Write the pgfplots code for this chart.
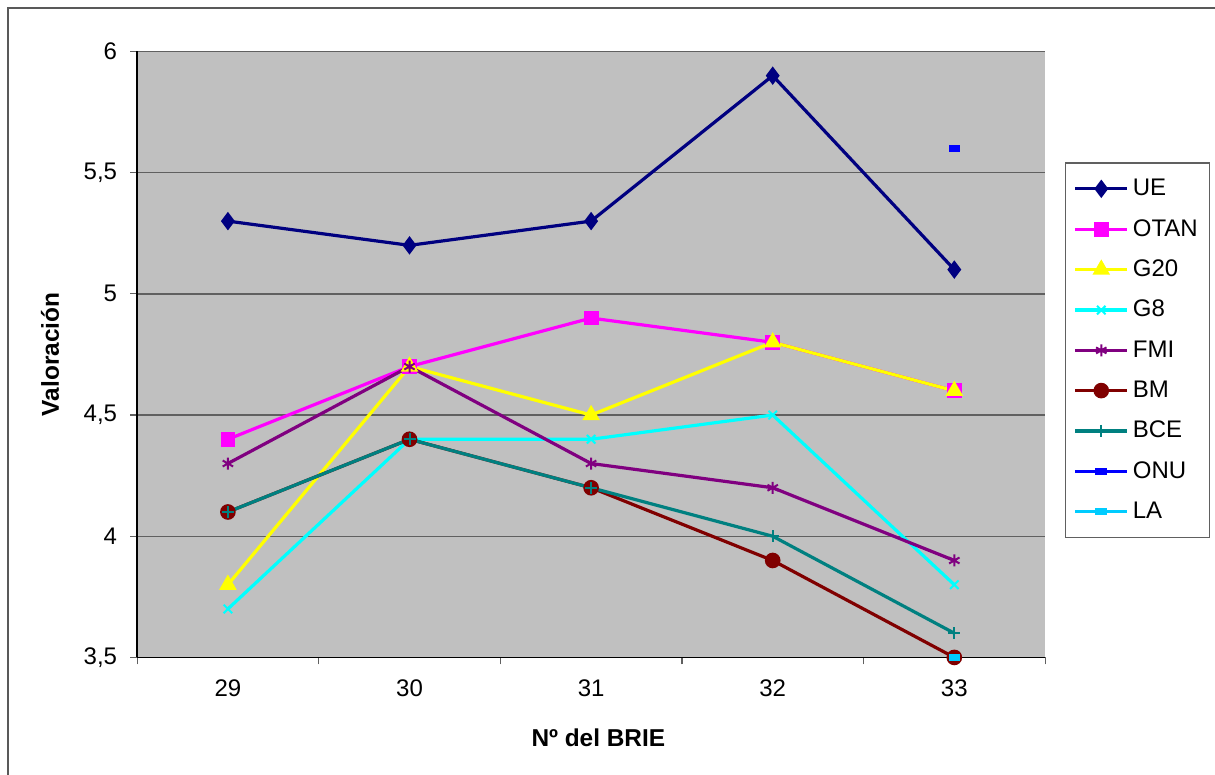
\documentclass[border=0pt]{standalone}
\usepackage{pgfplots}
\pgfplotsset{compat=1.18}
\usepackage{fontspec}
\setmainfont{Liberation Sans}
\definecolor{bgG}{RGB}{192,192,192}
\definecolor{cUE}{RGB}{0,0,128}
\definecolor{cOTAN}{RGB}{255,0,255}
\definecolor{cG20}{RGB}{255,255,0}
\definecolor{cG8}{RGB}{0,255,255}
\definecolor{cFMI}{RGB}{128,0,128}
\definecolor{cBM}{RGB}{128,0,0}
\definecolor{cBCE}{RGB}{0,128,128}
\definecolor{cONU}{RGB}{0,0,255}
\definecolor{cLA}{RGB}{0,204,255}
\definecolor{gridG}{RGB}{96,96,96}
\begin{document}
\begin{tikzpicture}[x=1pt,y=1pt]
\path[use as bounding box] (0,0) rectangle (607.5,387.5);
\draw[gray!70!black,line width=0.6pt] (4,0) -- (4,383.5) -- (607.5,383.5);
\begin{axis}[
  at={(75.5,48.5)}, anchor=south west,
  scale only axis, width=454pt, height=303pt,
  xmin=28.5, xmax=33.5, ymin=3.5, ymax=6,
  xtick={29,30,31,32,33},
  minor xtick={28.5,29.5,30.5,31.5,32.5,33.5},
  ytick={3.5,4,4.5,5,5.5,6},
  major x tick style={draw=none},
  tick align=outside,
  major tick length=3.5pt, minor tick length=3.5pt,
  tick style={gridG, line width=0.6pt},
  axis lines*=left,
  axis line style={black, line width=0.9pt, -},
  ymajorgrids, grid style={gridG, line width=0.7pt},
  axis background/.style={fill=bgG},
  /pgf/number format/assume math mode=true,
  /pgf/number format/use comma,
  tick label style={font=\fontsize{12}{14}\selectfont},
  xticklabel style={yshift=-4pt},
  yticklabel style={xshift=-3pt},
  xlabel={\bfseries Nº del BRIE},
  ylabel={\bfseries Valoración},
  label style={font=\fontsize{12.2}{14}\selectfont\bfseries},
  xlabel style={at={(axis description cs:0.508,0)}, anchor=center, yshift=-40pt},
  ylabel style={at={(axis description cs:-0.096,0.5)}, anchor=center},
  legend style={at={(axis description cs:1.022,0.8168)}, anchor=north west,
    draw=gridG, line width=0.6pt, fill=white,
    font=\fontsize{12}{14}\selectfont, row sep=6.35pt,
    inner xsep=4pt, inner ysep=6pt},
  legend cell align=left,
  legend image code/.code={
    \draw[#1, mark repeat=2, mark phase=2] plot coordinates {(0pt,0pt) (13pt,0pt) (26pt,0pt)};},
  every axis plot/.append style={line width=1.6pt},
  clip=false,
]
\addplot[cUE, mark=diamond*, mark size=3.3pt, mark options={solid}] coordinates {(29,5.3) (30,5.2) (31,5.3) (32,5.9) (33,5.1)};
\addlegendentry{UE}
\addplot[cOTAN, mark=square*, mark size=2.9pt] coordinates {(29,4.4) (30,4.7) (31,4.9) (32,4.8) (33,4.6)};
\addlegendentry{OTAN}
\addplot[cG20, mark=triangle*, mark size=3.5pt] coordinates {(29,3.8) (30,4.7) (31,4.5) (32,4.8) (33,4.6)};
\addlegendentry{G20}
\addplot[cG8, mark=x, mark size=3pt, mark options={line width=1pt}] coordinates {(29,3.7) (30,4.4) (31,4.4) (32,4.5) (33,3.8)};
\addlegendentry{G8}
\addplot[cFMI, mark=asterisk, mark size=3pt, mark options={line width=1pt}] coordinates {(29,4.3) (30,4.7) (31,4.3) (32,4.2) (33,3.9)};
\addlegendentry{FMI}
\addplot[cBM, mark=*, mark size=3.1pt] coordinates {(29,4.1) (30,4.4) (31,4.2) (32,3.9) (33,3.5)};
\addlegendentry{BM}
\addplot[cBCE, mark=+, mark size=3pt, mark options={line width=1pt}] coordinates {(29,4.1) (30,4.4) (31,4.2) (32,4.0) (33,3.6)};
\addlegendentry{BCE}
\addplot[cONU, mark=square*, mark options={xscale=1.4, yscale=0.6}, mark size=1.5pt] coordinates {(33,5.6)};
\addlegendentry{ONU}
\addplot[cLA, mark=square*, mark options={xscale=1.4, yscale=0.6}, mark size=1.5pt] coordinates {(33,3.5)};
\addlegendentry{LA}
\end{axis}
\end{tikzpicture}
\end{document}
